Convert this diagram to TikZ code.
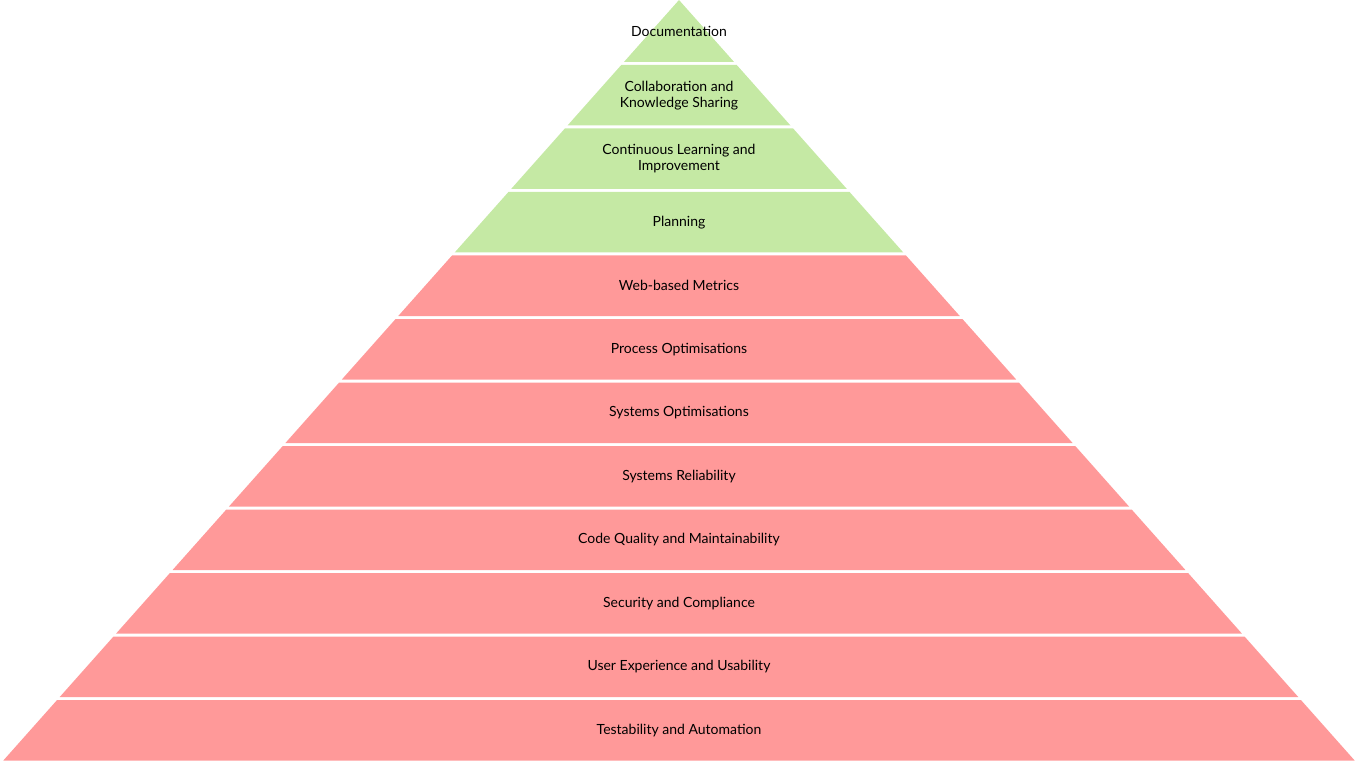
\documentclass[tikz,border=0pt]{standalone}
\usepackage{fontspec}
\setmainfont{Lato}
\definecolor{layergreen}{RGB}{197,233,164}
\definecolor{layerred}{RGB}{255,153,153}
\tikzset{
  layertext/.style={font=\fontsize{14}{16}\selectfont, align=center, text=black}
}
\begin{document}
\begin{tikzpicture}[x=1pt, y=-1pt]
  \useasboundingbox (0,0) rectangle (1358,762);
  % layers from top to bottom
  \foreach \lab/\col [count=\i from 0] in {
      Documentation/layergreen,
      {Collaboration and\\Knowledge Sharing}/layergreen,
      {Continuous Learning and\\Improvement}/layergreen,
      Planning/layergreen,
      Web-based Metrics/layerred,
      Process Optimisations/layerred,
      Systems Optimisations/layerred,
      Systems Reliability/layerred,
      Code Quality and Maintainability/layerred,
      Security and Compliance/layerred,
      User Experience and Usability/layerred,
      Testability and Automation/layerred} {
    \pgfmathsetmacro{\ytop}{\i==0 ? 0 : 63.5*\i+1.5}
    \pgfmathsetmacro{\ybot}{63.5*(\i+1)-1.5}
    \pgfmathsetmacro{\wtop}{0.888451*\ytop}
    \pgfmathsetmacro{\wbot}{0.888451*\ybot}
    \pgfmathsetmacro{\ymid}{(\ytop+\ybot)/2}
    \fill[\col] (679-\wtop,\ytop) -- (679+\wtop,\ytop) -- (679+\wbot,\ybot) -- (679-\wbot,\ybot) -- cycle;
    \node[layertext] (layer\i) at (679,\ymid) {\lab};
  }
\end{tikzpicture}
\end{document}
